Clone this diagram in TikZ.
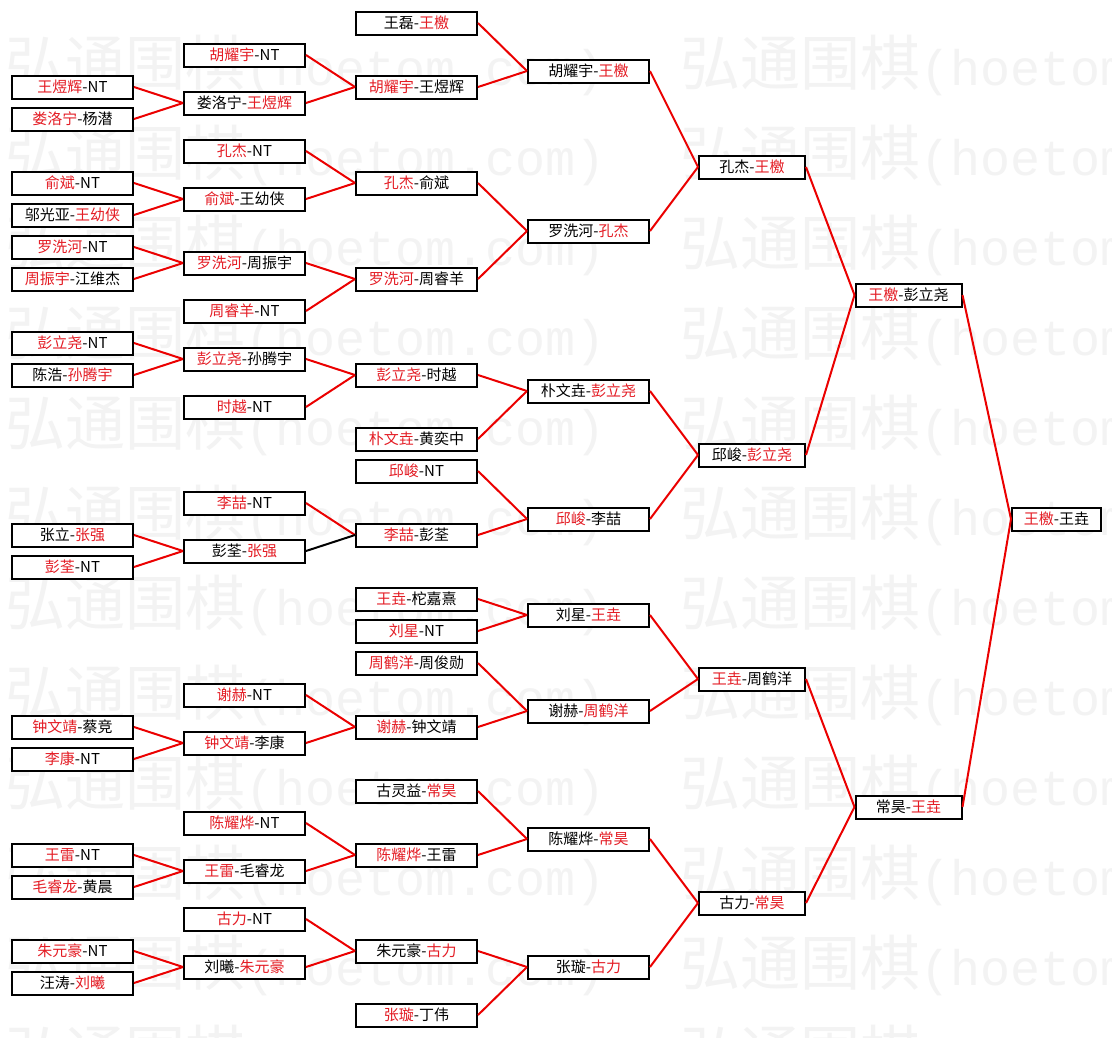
\documentclass[tikz,border=0pt]{standalone}
\usepackage{fontspec}
\newfontfamily\cjkf{Noto Sans CJK SC}
\newfontfamily\wmlat{Liberation Mono}
\definecolor{nmred}{RGB}{228,28,36}
\definecolor{lnred}{RGB}{235,0,0}
\definecolor{wmgray}{RGB}{243,243,243}
\newcommand\rdn[1]{\textcolor{nmred}{#1}}
\begin{document}
\begin{tikzpicture}[x=1pt,y=-1pt,
  bx/.style={draw=black, line width=2pt, fill=white, inner sep=0pt, minimum height=23pt,
    font=\cjkf\fontsize{15}{15}\selectfont, text=black},
  wa/.style={bx, minimum width=121pt},
  wb/.style={bx, minimum width=106pt},
  wc/.style={bx, minimum width=89pt},
  conn/.style={draw=lnred, line width=2pt},
  connk/.style={draw=black, line width=2pt},
  wm/.style={anchor=west, inner sep=0pt, text=wmgray}]
\useasboundingbox (0,0) rectangle (1112,1037);
\fill[white] (0,0) rectangle (1112,1037);
% watermark
\foreach \k in {0,...,11}{
  \node[wm] (wmL\k) at (5,{65+90*\k}) {{\cjkf\fontsize{60}{60}\selectfont 弘通围棋}{\wmlat\fontsize{50}{50}\selectfont (hoetom.com)}};
  \node[wm] (wmR\k) at (680,{65+90*\k}) {{\cjkf\fontsize{60}{60}\selectfont 弘通围棋}{\wmlat\fontsize{50}{50}\selectfont (hoetom.com)}};
}
% column 0
\node[wa] (a1) at (72.5,87) {\rdn{王煜辉}-NT};
\node[wa] (a2) at (72.5,119) {\rdn{娄洛宁}-杨潜};
\node[wa] (a3) at (72.5,183) {\rdn{俞斌}-NT};
\node[wa] (a4) at (72.5,215) {邬光亚-\rdn{王幼侠}};
\node[wa] (a5) at (72.5,247) {\rdn{罗洗河}-NT};
\node[wa] (a6) at (72.5,279) {\rdn{周振宇}-江维杰};
\node[wa] (a7) at (72.5,343) {\rdn{彭立尧}-NT};
\node[wa] (a8) at (72.5,375) {陈浩-\rdn{孙腾宇}};
\node[wa] (a9) at (72.5,535) {张立-\rdn{张强}};
\node[wa] (a10) at (72.5,567) {\rdn{彭荃}-NT};
\node[wa] (a11) at (72.5,727) {\rdn{钟文靖}-蔡竞};
\node[wa] (a12) at (72.5,759) {\rdn{李康}-NT};
\node[wa] (a13) at (72.5,855) {\rdn{王雷}-NT};
\node[wa] (a14) at (72.5,887) {\rdn{毛睿龙}-黄晨};
\node[wa] (a15) at (72.5,951) {\rdn{朱元豪}-NT};
\node[wa] (a16) at (72.5,983) {汪涛-\rdn{刘曦}};
% column 1
\node[wa] (b1) at (244.5,55) {\rdn{胡耀宇}-NT};
\node[wa] (b2) at (244.5,103) {娄洛宁-\rdn{王煜辉}};
\node[wa] (b3) at (244.5,151) {\rdn{孔杰}-NT};
\node[wa] (b4) at (244.5,199) {\rdn{俞斌}-王幼侠};
\node[wa] (b5) at (244.5,263) {\rdn{罗洗河}-周振宇};
\node[wa] (b6) at (244.5,311) {\rdn{周睿羊}-NT};
\node[wa] (b7) at (244.5,359) {\rdn{彭立尧}-孙腾宇};
\node[wa] (b8) at (244.5,407) {\rdn{时越}-NT};
\node[wa] (b9) at (244.5,503) {\rdn{李喆}-NT};
\node[wa] (b10) at (244.5,551) {彭荃-\rdn{张强}};
\node[wa] (b11) at (244.5,695) {\rdn{谢赫}-NT};
\node[wa] (b12) at (244.5,743) {\rdn{钟文靖}-李康};
\node[wa] (b13) at (244.5,823) {\rdn{陈耀烨}-NT};
\node[wa] (b14) at (244.5,871) {\rdn{王雷}-毛睿龙};
\node[wa] (b15) at (244.5,919) {\rdn{古力}-NT};
\node[wa] (b16) at (244.5,967) {刘曦-\rdn{朱元豪}};
% column 2
\node[wa] (c1) at (416.5,23) {王磊-\rdn{王檄}};
\node[wa] (c2) at (416.5,87) {\rdn{胡耀宇}-王煜辉};
\node[wa] (c3) at (416.5,183) {\rdn{孔杰}-俞斌};
\node[wa] (c4) at (416.5,279) {\rdn{罗洗河}-周睿羊};
\node[wa] (c5) at (416.5,375) {\rdn{彭立尧}-时越};
\node[wa] (c6) at (416.5,439) {\rdn{朴文垚}-黄奕中};
\node[wa] (c7) at (416.5,471) {\rdn{邱峻}-NT};
\node[wa] (c8) at (416.5,535) {\rdn{李喆}-彭荃};
\node[wa] (c9) at (416.5,599) {\rdn{王垚}-柁嘉熹};
\node[wa] (c10) at (416.5,631) {\rdn{刘星}-NT};
\node[wa] (c11) at (416.5,663) {\rdn{周鹤洋}-周俊勋};
\node[wa] (c12) at (416.5,727) {\rdn{谢赫}-钟文靖};
\node[wa] (c13) at (416.5,791) {古灵益-\rdn{常昊}};
\node[wa] (c14) at (416.5,855) {\rdn{陈耀烨}-王雷};
\node[wa] (c15) at (416.5,951) {朱元豪-\rdn{古力}};
\node[wa] (c16) at (416.5,1015) {\rdn{张璇}-丁伟};
% column 3
\node[wa] (d1) at (588.5,71) {胡耀宇-\rdn{王檄}};
\node[wa] (d2) at (588.5,231) {罗洗河-\rdn{孔杰}};
\node[wa] (d3) at (588.5,391) {朴文垚-\rdn{彭立尧}};
\node[wa] (d4) at (588.5,519) {\rdn{邱峻}-李喆};
\node[wa] (d5) at (588.5,615) {刘星-\rdn{王垚}};
\node[wa] (d6) at (588.5,711) {谢赫-\rdn{周鹤洋}};
\node[wa] (d7) at (588.5,839) {陈耀烨-\rdn{常昊}};
\node[wa] (d8) at (588.5,967) {张璇-\rdn{古力}};
% column 4
\node[wb] (e1) at (752,167) {孔杰-\rdn{王檄}};
\node[wb] (e2) at (752,455) {邱峻-\rdn{彭立尧}};
\node[wb] (e3) at (752,679) {\rdn{王垚}-周鹤洋};
\node[wb] (e4) at (752,903) {古力-\rdn{常昊}};
% column 5
\node[wb] (f1) at (908.5,295) {\rdn{王檄}-彭立尧};
\node[wb] (f2) at (908.5,807) {常昊-\rdn{王垚}};
% column 6
\node[wc] (g1) at (1056.5,519) {\rdn{王檄}-王垚};
% connectors
\foreach \s/\t in {a1/b2,a2/b2,a3/b4,a4/b4,a5/b5,a6/b5,a7/b7,a8/b7,a9/b10,a10/b10,a11/b12,a12/b12,a13/b14,a14/b14,a15/b16,a16/b16,
  b1/c2,b2/c2,b3/c3,b4/c3,b5/c4,b6/c4,b7/c5,b8/c5,b9/c8,b11/c12,b12/c12,b13/c14,b14/c14,b15/c15,b16/c15,
  c1/d1,c2/d1,c3/d2,c4/d2,c5/d3,c6/d3,c7/d4,c8/d4,c9/d5,c10/d5,c11/d6,c12/d6,c13/d7,c14/d7,c15/d8,c16/d8,
  d1/e1,d2/e1,d3/e2,d4/e2,d5/e3,d6/e3,d7/e4,d8/e4,
  e1/f1,e2/f1,e3/f2,e4/f2,f1/g1,f2/g1}
  \draw[conn] (\s.east) -- (\t.west);
\draw[connk] (b10.east) -- (c8.west);
\end{tikzpicture}
\end{document}
